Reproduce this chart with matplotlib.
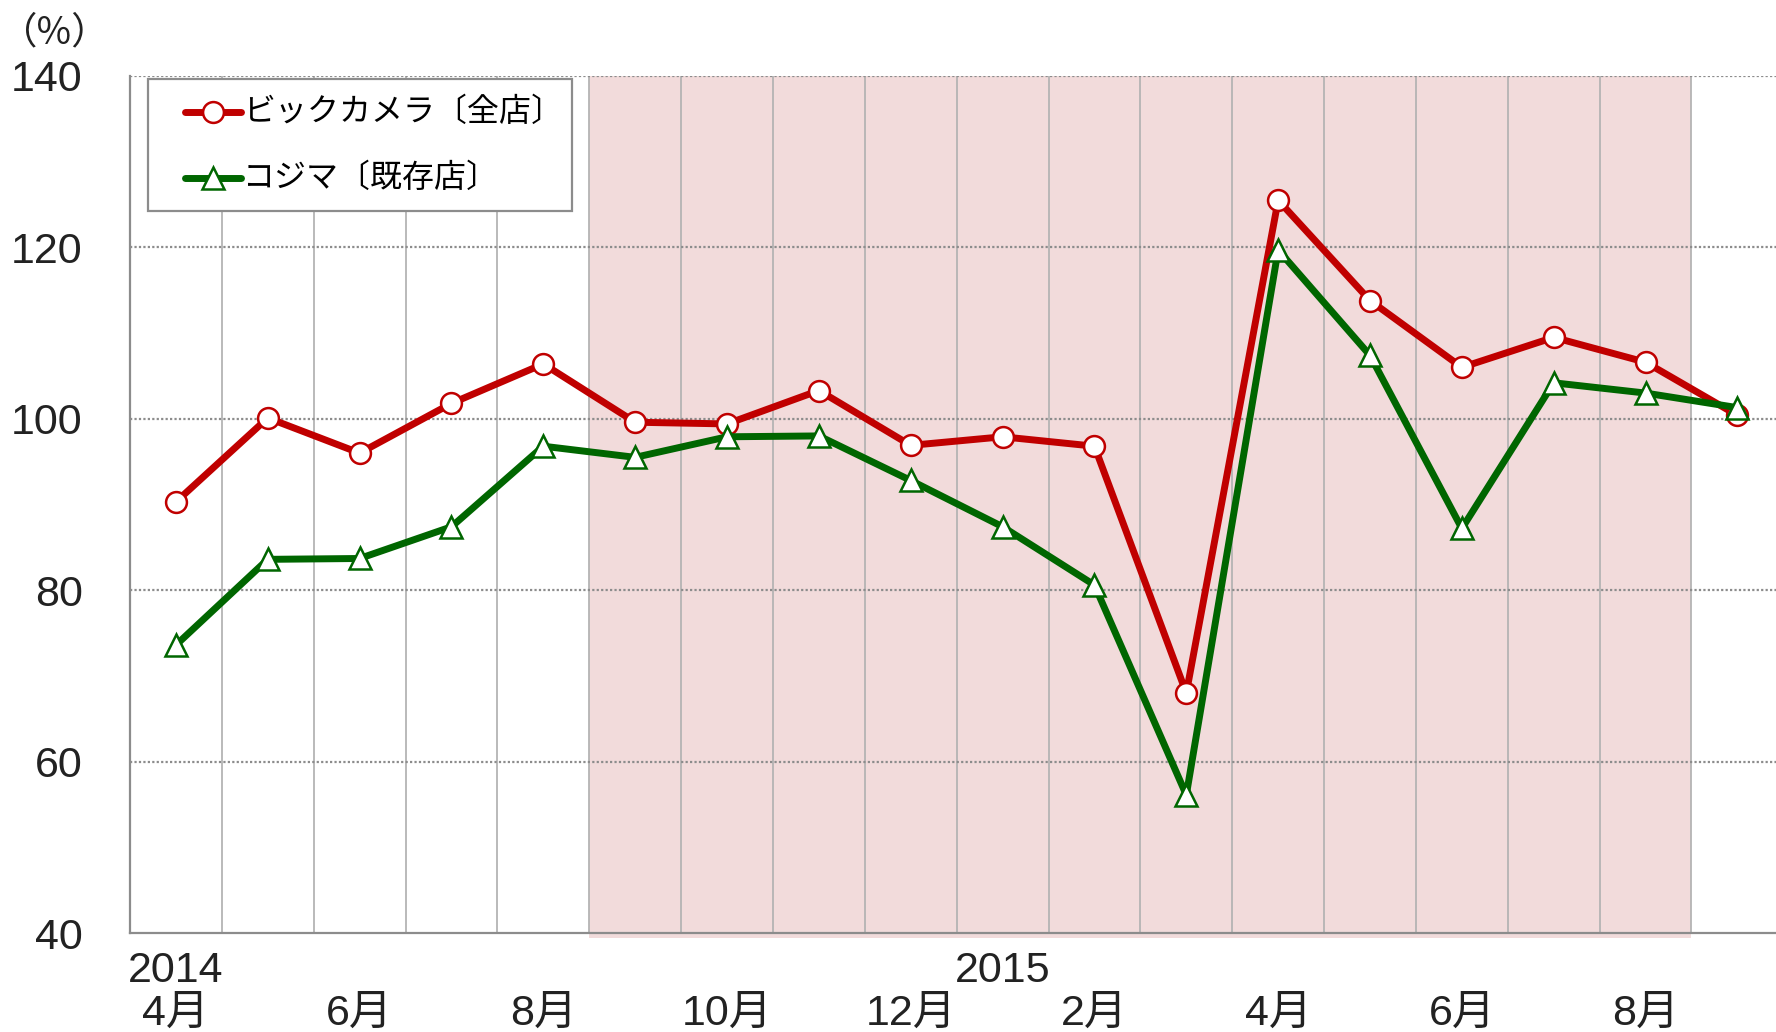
import matplotlib
matplotlib.use("Agg")
import matplotlib.pyplot as plt
from matplotlib.patches import Rectangle

# ── Data ──────────────────────────────────────────────────────────────────────
months = ["2014-04", "2014-05", "2014-06", "2014-07", "2014-08", "2014-09",
          "2014-10", "2014-11", "2014-12", "2015-01", "2015-02", "2015-03",
          "2015-04", "2015-05", "2015-06", "2015-07", "2015-08", "2015-09"]
bic_all = [90.3, 100.1, 96.0, 101.8, 106.4, 99.6, 99.4, 103.3, 96.9,
           97.9, 96.8, 68.0, 125.5, 113.8, 106.0, 109.5, 106.6, 100.4]
kojima_existing = [73.6, 83.6, 83.7, 87.4, 96.8, 95.5, 97.9, 98.0, 92.8,
                   87.4, 80.6, 56.1, 119.7, 107.4, 87.2, 104.2, 103.0, 101.3]
series_names = ["ビックカメラ〔全店〕", "コジマ〔既存店〕"]
month_labels = ["4月", "6月", "8月", "10月", "12月", "2月", "4月", "6月", "8月"]
month_label_idx = [0, 2, 4, 6, 8, 10, 12, 14, 16]
year_labels = {0: "2014", 9: "2015"}
shade_span = (4.5, 16.5)
y_ticks = [40, 60, 80, 100, 120, 140]

RED = "#c00000"
GREEN = "#006600"
GRID = "#8c8c8c"
TXT = "#222222"
JP = ["Noto Sans CJK JP", "DejaVu Sans"]
NUM = ["Liberation Sans", "Noto Sans CJK JP"]

x = list(range(len(months)))

fig = plt.figure(figsize=(17.76, 10.32), dpi=100)
ax = fig.add_axes([0.0732, 0.0959, 0.9268, 0.8305])

ax.set_xlim(-0.5, 17.42)
ax.set_ylim(40, 140)

# ── shaded period ─────────────────────────────────────────────────────────────
ax.add_patch(Rectangle((shade_span[0], 39.4), shade_span[1] - shade_span[0], 100.6,
                       facecolor="#f2dbdb", edgecolor="none", zorder=0, clip_on=False))

# ── grid ──────────────────────────────────────────────────────────────────────
for v in range(len(months) - 1):
    ax.axvline(v + 0.5, color="#b4b4b4", lw=1.3, zorder=1)
for yv in y_ticks[1:]:
    ax.axhline(yv, color=GRID, lw=1.6, ls=(0, (1, 1)), zorder=1)

line_kw = dict(lw=5, mfc="white", mew=1.8)
ax.plot(x, bic_all, color=RED, marker="o", ms=15, mec=RED, zorder=3, **line_kw)
ax.plot(x, kojima_existing, color=GREEN, marker="^", ms=16, mec=GREEN, zorder=4, **line_kw)

for s in ["top", "right"]:
    ax.spines[s].set_visible(False)
for s in ["left", "bottom"]:
    ax.spines[s].set_color(GRID)
    ax.spines[s].set_linewidth(1.6)
    ax.spines[s].set_zorder(2)

ax.set_yticks(y_ticks)
ax.set_yticklabels([str(t) for t in y_ticks], family=NUM, fontsize=31, color=TXT)
ax.tick_params(axis="y", length=0, pad=34)
ax.set_xticks([])

for i, lab in zip(month_label_idx, month_labels):
    ax.annotate(lab, xy=(i, 0), xycoords=("data", "axes fraction"),
                xytext=(0, -58), textcoords="offset points",
                ha="center", va="center", fontsize=31, family=NUM, color=TXT)
for i, lab in year_labels.items():
    ax.annotate(lab, xy=(i, 0), xycoords=("data", "axes fraction"),
                xytext=(0, -27), textcoords="offset points",
                ha="center", va="center", fontsize=31, family=NUM, color=TXT)

fig.text(0.0, 0.968, "（%）", family=JP, fontsize=27, ha="left", va="center", color=TXT)

# ── legend (drawn by hand, axes coords) ──────────────────────────────────────
T = ax.transAxes
ax.add_patch(Rectangle((0.0109, 0.8425), 0.2576, 0.154, transform=T, facecolor="white",
                       edgecolor=GRID, lw=1.6, zorder=6, clip_on=False))
for yy, col, mk, ms, name in [(0.958, RED, "o", 15, series_names[0]),
                              (0.881, GREEN, "^", 16, series_names[1])]:
    ax.plot([0.0334, 0.0674], [yy, yy], color=col, lw=5, solid_capstyle="round",
            transform=T, zorder=7, clip_on=False)
    ax.plot([0.0504], [yy], marker=mk, ms=ms, mfc="white", mec=col, mew=1.8,
            transform=T, zorder=8, clip_on=False)
    ax.text(0.0688, yy, name, transform=T, family=JP, fontsize=23, va="center",
            ha="left", color="black", zorder=8)

fig.savefig("out.png", dpi=100)
